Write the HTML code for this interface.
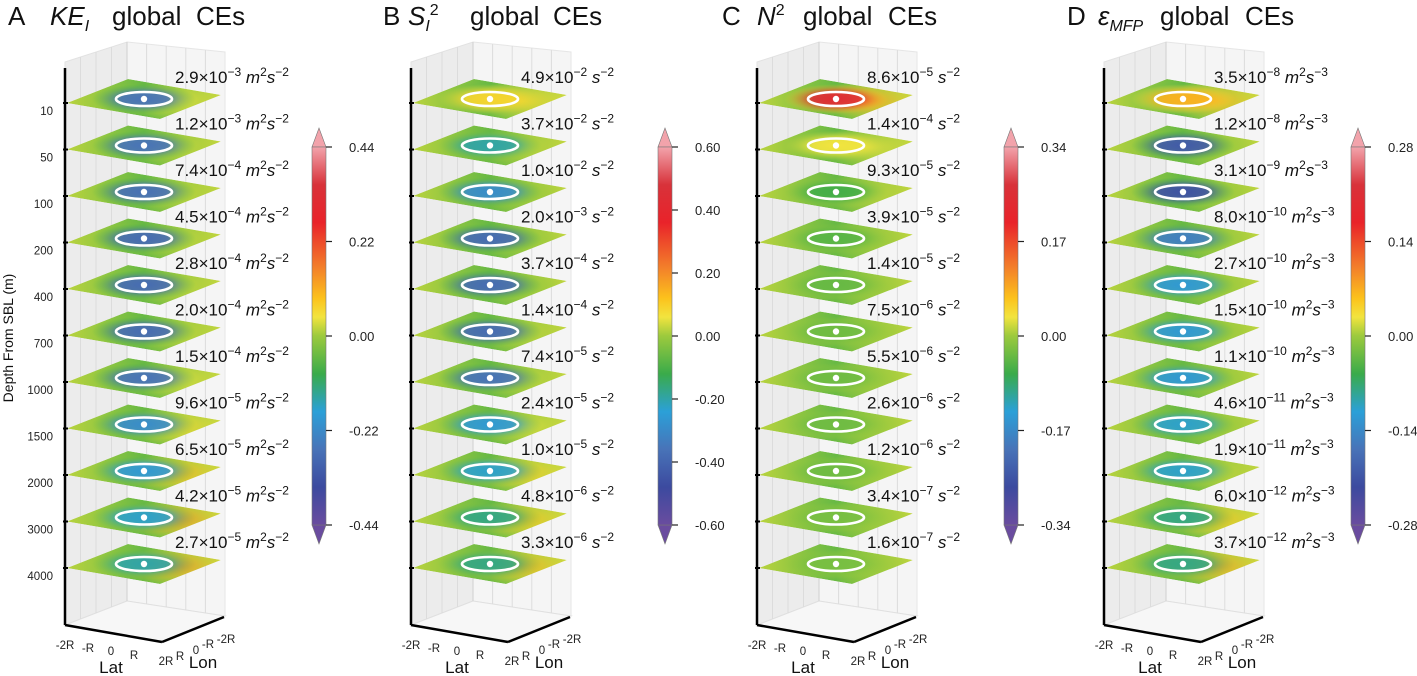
<!DOCTYPE html>
<html><head><meta charset="utf-8">
<style>
html,body{margin:0;padding:0;background:#fff;}
svg{display:block;font-family:"Liberation Sans","DejaVu Sans",sans-serif;}
</style></head>
<body>
<svg id="fig" width="1417" height="676" viewBox="0 0 1417 676">
<defs>
<linearGradient id="cbar" x1="0" y1="0" x2="0" y2="1">
<stop offset="0" stop-color="#f2a3ab"/><stop offset="0.1" stop-color="#d8323a"/>
<stop offset="0.2" stop-color="#e9232a"/><stop offset="0.32" stop-color="#f3802a"/>
<stop offset="0.4" stop-color="#fcc21c"/><stop offset="0.45" stop-color="#f2e43f"/>
<stop offset="0.5" stop-color="#9cca3d"/><stop offset="0.6" stop-color="#3aab4a"/>
<stop offset="0.7" stop-color="#2ba0d8"/><stop offset="0.8" stop-color="#4873b8"/>
<stop offset="0.9" stop-color="#3c4a9f"/><stop offset="1" stop-color="#6a4c9f"/>
</linearGradient>
</defs>
</svg>
<script>
const titles = ["KE", "S", "N", "ε"];
const depthLabels = ["10","50","100","200","400","700","1000","1500","2000","3000","4000"];
const cbarTicksA = ["0.44","0.22","0.00","-0.22","-0.44"];
const cbarTicksB = ["0.60","0.40","0.20","0.00","-0.20","-0.40","-0.60"];
const cbarTicksC = ["0.34","0.17","0.00","-0.17","-0.34"];
const cbarTicksD = ["0.28","0.14","0.00","-0.14","-0.28"];
const mantA = ["2.9","1.2","7.4","4.5","2.8","2.0","1.5","9.6","6.5","4.2","2.7"];
const expA = ["-3","-3","-4","-4","-4","-4","-4","-5","-5","-5","-5"];
const mantB = ["4.9","3.7","1.0","2.0","3.7","1.4","7.4","2.4","1.0","4.8","3.3"];
const expB = ["-2","-2","-2","-3","-4","-4","-5","-5","-5","-6","-6"];
const mantC = ["8.6","1.4","9.3","3.9","1.4","7.5","5.5","2.6","1.2","3.4","1.6"];
const expC = ["-5","-4","-5","-5","-5","-6","-6","-6","-6","-7","-7"];
const mantD = ["3.5","1.2","3.1","8.0","2.7","1.5","1.1","4.6","1.9","6.0","3.7"];
const expD = ["-8","-8","-9","-10","-10","-10","-10","-11","-11","-12","-12"];
// normalized anomaly (-1..1) in eddy core and on east flank, per depth level
const centerA = [-0.6,-0.6,-0.62,-0.65,-0.65,-0.65,-0.6,-0.5,-0.45,-0.4,-0.35];
const eastA   = [0.1,0.05,0.05,0.05,0.05,0.05,0.1,0.2,0.35,0.45,0.45];
const centerB = [0.2,-0.35,-0.5,-0.65,-0.65,-0.65,-0.6,-0.45,-0.4,-0.3,-0.3];
const eastB   = [0.2,0.05,0.0,0.0,0.0,0.05,0.05,0.1,0.25,0.3,0.35];
const centerC = [0.8,0.12,-0.2,-0.15,-0.12,-0.1,-0.1,-0.1,-0.1,-0.08,-0.08];
const eastC   = [0.4,0.1,0.05,0,0,0,0,0,0,0,0];
const centerD = [0.35,-0.75,-0.8,-0.55,-0.45,-0.45,-0.45,-0.4,-0.4,-0.3,-0.3];
const eastD   = [0.35,0.0,0.0,0.0,0.0,0.0,0.0,0.0,0.05,0.3,0.4];

const panels = [
 {letter:"A", dx:0, tx:[8,50,112,196], mant:mantA, exp:expA, units:"m2s2", center:centerA, east:eastA, ticks:cbarTicksA},
 {letter:"B", dx:346, tx:[383,408,470,553], mant:mantB, exp:expB, units:"s2", center:centerB, east:eastB, ticks:cbarTicksB},
 {letter:"C", dx:692, tx:[722,757,803,888], mant:mantC, exp:expC, units:"s2", center:centerC, east:eastC, ticks:cbarTicksC},
 {letter:"D", dx:1039, tx:[1067,1098,1160,1245], mant:mantD, exp:expD, units:"m2s3", center:centerD, east:eastD, ticks:cbarTicksD}
];
const NS="http://www.w3.org/2000/svg";
const svg=document.getElementById('fig');
const defs=svg.querySelector('defs');
function mk(tag,attrs,parent){const e=document.createElementNS(NS,tag);for(const k in attrs)e.setAttribute(k,attrs[k]);(parent||svg).appendChild(e);return e;}
const cstops=[[-1,[106,76,159]],[-0.85,[60,74,159]],[-0.6,[72,115,184]],[-0.42,[43,160,216]],[-0.22,[58,171,74]],[0,[156,202,61]],[0.12,[242,228,63]],[0.3,[252,194,28]],[0.5,[243,128,42]],[0.72,[233,35,42]],[0.85,[216,50,58]],[1,[242,163,171]]];
function cmap(v){v=Math.max(-1,Math.min(1,v));for(let i=1;i<cstops.length;i++){if(v<=cstops[i][0]){const a=cstops[i-1],b=cstops[i];const t=(v-a[0])/(b[0]-a[0]);const c=a[1].map((x,j)=>Math.round(x+(b[1][j]-x)*t));return `rgb(${c[0]},${c[1]},${c[2]})`;}}return 'rgb(242,163,171)';}
const yTop=103, yStep=46.5;
function levelY(i){return yTop+i*yStep;}
let gid=0;
panels.forEach((p,pi)=>{
  const dx=p.dx;
  const g=mk('g',{});
  
  
  const w1=mk('polygon',{points:`${65+dx},62 ${127+dx},42 ${127+dx},601 ${65+dx},625`,fill:'#ececec',stroke:'#e2e2e2'},g);
  
  const w2=mk('polygon',{points:`${127+dx},42 ${225+dx},52 ${225+dx},616 ${127+dx},601`,fill:'#f5f5f5',stroke:'#e6e6e6'},g);
  
  const fl=mk('polygon',{points:`${65+dx},625 ${127+dx},601 ${225+dx},616 ${162+dx},642`,fill:'#f7f7f7',stroke:'#e0e0e0'},g);
  
  for(let k=1;k<4;k++){const x=65+dx+k*15.5;mk('line',{x1:x,y1:62-k*5,x2:x,y2:625-k*6,stroke:'#dcdcdc','stroke-width':1},g);}
  for(let k=1;k<5;k++){const x=127+dx+k*19.6;mk('line',{x1:x,y1:42+k*2,x2:x,y2:601+k*3,stroke:'#dcdcdc','stroke-width':1},g);}
  mk('line',{x1:127+dx,y1:42,x2:127+dx,y2:601,stroke:'#d0d0d0'},g);
  for(let i=0;i<11;i++){
    const ly=levelY(i);
    const L=[67+dx,ly],T=[128+dx,ly-24],R=[221+dx,ly-8],B=[160+dx,ly+16];
    const cx=144+dx, cy=ly-4;
    const id='pl'+(gid++);
    const cp=mk('clipPath',{id:id},defs);
    mk('polygon',{points:`${L} ${T} ${R} ${B}`},cp);
    const lg=mk('linearGradient',{id:id+'g',x1:'0',y1:'0',x2:'1',y2:'0'},defs);
    mk('stop',{offset:'0','stop-color':cmap(0.04)},lg);
    mk('stop',{offset:'0.5','stop-color':cmap(-0.12)},lg);
    mk('stop',{offset:'1','stop-color':cmap(0.06)},lg);
    const rg=mk('radialGradient',{id:id+'c',cx:'0.5',cy:'0.5',r:'0.5'},defs);
    mk('stop',{offset:'0','stop-color':cmap(p.center[i]),'stop-opacity':1},rg);
    mk('stop',{offset:'0.45','stop-color':cmap(p.center[i]),'stop-opacity':0.9},rg);
    mk('stop',{offset:'1','stop-color':cmap(p.center[i]*0.3),'stop-opacity':0},rg);
    const eg=mk('radialGradient',{id:id+'e',cx:'0.5',cy:'0.5',r:'0.5'},defs);
    mk('stop',{offset:'0','stop-color':cmap(p.east[i]),'stop-opacity':1},eg);
    mk('stop',{offset:'1','stop-color':cmap(p.east[i]*0.5),'stop-opacity':0},eg);
    const pg=mk('g',{'clip-path':`url(#${id})`},g);
    
    
    mk('polygon',{points:`${L} ${T} ${R} ${B}`,fill:`url(#${id}g)`},pg);
    mk('ellipse',{cx:cx+30,cy:cy+2,rx:55,ry:19,fill:`url(#${id}e)`},pg);
    mk('ellipse',{cx:cx,cy:cy,rx:52,ry:15,fill:`url(#${id}c)`},pg);
    const ring=mk('ellipse',{cx:cx,cy:cy,rx:28,ry:7,fill:'none',stroke:'#fff','stroke-width':2.6},g);
    
    mk('circle',{cx:cx,cy:cy,r:3.2,fill:'#fff'},g);
    mk('line',{x1:63+dx,y1:ly,x2:68+dx,y2:ly,stroke:'#000','stroke-width':2},g);
    if(pi===0){
      const t=mk('text',{x:53,y:ly+12,'font-size':11.5,'text-anchor':'end',fill:'#222'},g);
      t.textContent=depthLabels[i];
      
    }
    const tx=mk('text',{x:175+dx,y:levelY(i)-26+6,'font-size':17,fill:'#111'},g);
    
    let s=`${p.mant[i]}×10<tspan dy="-7" font-size="12">${p.exp[i].replace('-','−')}</tspan>`;
    if(p.units==='s2') s+=`<tspan dy="7" font-style="italic"> s</tspan><tspan dy="-7" font-size="12">−2</tspan>`;
    else s+=`<tspan dy="7" font-style="italic"> m</tspan><tspan dy="-7" font-size="12">2</tspan><tspan dy="7" font-style="italic">s</tspan><tspan dy="-7" font-size="12">−${p.units==='m2s2'?2:3}</tspan>`;
    tx.innerHTML=s;
  }
  mk('line',{x1:65+dx,y1:68,x2:65+dx,y2:625,stroke:'#000','stroke-width':2.5},g);
  mk('line',{x1:65+dx,y1:625,x2:162+dx,y2:642,stroke:'#000','stroke-width':2.5},g);
  mk('line',{x1:162+dx,y1:642,x2:224+dx,y2:617,stroke:'#000','stroke-width':2.5},g);
  const latT=[["-2R",65,649],["-R",88,652],["0",111,655],["R",134,659],["2R",166,665]];
  latT.forEach(a=>{const t=mk('text',{x:a[1]+dx,y:a[2],'font-size':11.5,'text-anchor':'middle',fill:'#222'},g);t.textContent=a[0];});
  const lonT=[["R",180,660],["0",196,654],["-R",208,648],["-2R",226,643]];
  lonT.forEach(a=>{const t=mk('text',{x:a[1]+dx,y:a[2],'font-size':11.5,'text-anchor':'middle',fill:'#222'},g);t.textContent=a[0];});
  const lat=mk('text',{x:111+dx,y:673,'font-size':17,'text-anchor':'middle',fill:'#111'},g);lat.textContent='Lat';
  
  const lon=mk('text',{x:203+dx,y:668,'font-size':17,'text-anchor':'middle',fill:'#111'},g);lon.textContent='Lon';
  
  const tl=mk('text',{x:p.tx[0],y:25,'font-size':26,fill:'#111'},g);
  
  const X=p.tx;
  let sym;
  if(pi===0) sym=`<tspan x="${X[1]}" y="25" font-style="italic">KE</tspan><tspan font-style="italic" font-size="16" y="31">I</tspan>`;
  else if(pi===1) sym=`<tspan x="${X[1]}" y="25" font-style="italic">S</tspan><tspan font-style="italic" font-size="16" y="31">I</tspan><tspan font-size="16" y="15">2</tspan>`;
  else if(pi===2) sym=`<tspan x="${X[1]}" y="25" font-style="italic">N</tspan><tspan font-size="16" y="15">2</tspan>`;
  else sym=`<tspan x="${X[1]}" y="25" font-style="italic">ε</tspan><tspan font-style="italic" font-size="16" y="31">MFP</tspan>`;
  tl.innerHTML=`${p.letter}${sym}<tspan x="${X[2]}" y="25">global</tspan><tspan x="${X[3]}" y="25">CEs</tspan>`;
  const bx=312+dx;
  const cb=mk('g',{},g);
  
  mk('polygon',{points:`${bx},147 ${bx+7},128 ${bx+14},147`,fill:'#f2a3ab',stroke:'#777','stroke-width':0.6},cb);
  mk('polygon',{points:`${bx},525 ${bx+7},544 ${bx+14},525`,fill:'#6a4c9f',stroke:'#777','stroke-width':0.6},cb);
  mk('rect',{x:bx,y:147,width:14,height:378,fill:'url(#cbar)',stroke:'#777','stroke-width':0.6},cb);
  const n=p.ticks.length;
  p.ticks.forEach((lab,k)=>{
    const y=147+k*378/(n-1);
    mk('line',{x1:bx+14,y1:y,x2:bx+20,y2:y,stroke:'#222','stroke-width':1.2},cb);
    const t=mk('text',{x:bx+37,y:y+5,'font-size':13,fill:'#222'},cb);
    t.textContent=lab;
    
  });
});
const yl=mk('text',{x:0,y:0,'font-size':14,'text-anchor':'middle',fill:'#111',transform:'translate(13,338) rotate(-90)'});
yl.textContent='Depth From SBL (m)';


</script>
</body></html>
